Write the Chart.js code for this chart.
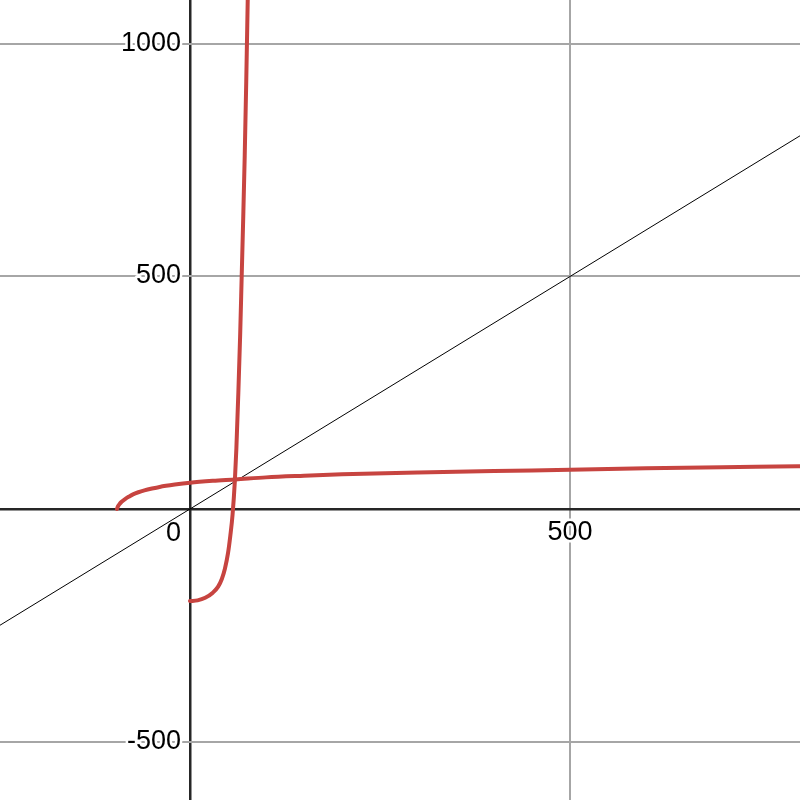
<!DOCTYPE html>
<html>
<head>
<meta charset="utf-8">
<script src="https://cdn.jsdelivr.net/npm/chart.js@4/dist/chart.umd.min.js"></script>
<style>
  body { margin: 0; background: #fff; }
  #caja { width: 800px; height: 800px; }
</style>
</head>
<body>
<div id="caja"><canvas id="grafico"></canvas></div>
<script>
// limites de los ejes y marcas
const xLimites = [-250, 802.6];
const yLimites = [-625.8, 1094.6];
const xMarcas = [0, 500];
const yMarcas = [-500, 0, 500, 1000];

// curva roja lenta (arranca en x = -96)
const curvaAX = [-96, -95, -93, -90, -85, -80, -75, -68, -60, -50, -40, -20, 0, 30, 60, 100, 150, 200, 300, 400, 500, 600, 700, 800, 810];
const curvaAY = [0, 5, 10, 15.5, 22, 27, 31.5, 36, 40, 44, 47.5, 52.5, 56.5, 60.5, 63.5, 68, 71.5, 74.5, 78.5, 81.5, 84.5, 87.5, 90, 92, 92.3];

// curva roja empinada (arranca en x = 0)
const curvaBX = [0, 10, 20, 30, 37, 42, 46, 50, 53, 56, 59, 61, 63.6, 66, 68, 70, 72, 74, 76];
const curvaBY = [-198, -196.5, -191, -180, -167, -150, -128, -95, -58, -12, 60, 130, 250, 375, 500, 625, 760, 920, 1100];

// recta y = x
const rectaX = [-250, 803];
const rectaY = [-250, 803];

const rojo = '#c74440';
const puntos = (xs, ys) => xs.map((v, i) => ({ x: v, y: ys[i] }));

// etiquetas de los ejes al estilo desmos
const etiquetas = {
  id: 'etiquetas',
  beforeDatasetsDraw(chart) {
    const { ctx, scales: { x, y } } = chart;
    const x0 = x.getPixelForValue(0);
    const y0 = y.getPixelForValue(0);
    ctx.save();
    ctx.font = '27px "Liberation Sans", Arial, sans-serif';
    ctx.lineWidth = 5;
    ctx.lineJoin = 'round';
    ctx.strokeStyle = '#fff';
    ctx.fillStyle = '#000';
    const escribir = (txt, px, py, align) => {
      ctx.textAlign = align;
      ctx.strokeText(txt, px, py);
      ctx.fillText(txt, px, py);
    };
    xMarcas.forEach(v => {
      if (v === 0) escribir('0', x0 - 9, y0 + 32, 'right');
      else escribir(String(v), x.getPixelForValue(v), y0 + 31, 'center');
    });
    yMarcas.forEach(v => {
      if (v !== 0) escribir(String(v), x0 - 9, y.getPixelForValue(v) + 7, 'right');
    });
    ctx.restore();
  }
};

const rejilla = {
  drawTicks: false,
  color: c => c.tick && c.tick.value === 0 ? '#262626' : '#a6a6a6',
  lineWidth: c => c.tick && c.tick.value === 0 ? 2.5 : 2
};

new Chart(document.getElementById('grafico'), {
  type: 'scatter',
  data: {
    datasets: [
      {
        data: puntos(curvaAX, curvaAY),
        showLine: true,
        borderColor: rojo,
        borderWidth: 4,
        borderCapStyle: 'round',
        cubicInterpolationMode: 'monotone',
        pointRadius: 0,
        order: 1
      },
      {
        data: puntos(curvaBX, curvaBY),
        showLine: true,
        borderColor: rojo,
        borderWidth: 4,
        borderCapStyle: 'round',
        cubicInterpolationMode: 'monotone',
        pointRadius: 0,
        order: 1
      },
      {
        data: puntos(rectaX, rectaY),
        showLine: true,
        borderColor: '#000',
        borderWidth: 1,
        pointRadius: 0,
        order: 2
      }
    ]
  },
  options: {
    responsive: true,
    maintainAspectRatio: false,
    animation: false,
    layout: { padding: 0 },
    plugins: { legend: { display: false }, tooltip: { enabled: false } },
    scales: {
      x: {
        type: 'linear',
        min: xLimites[0],
        max: xLimites[1],
        afterBuildTicks: eje => { eje.ticks = xMarcas.map(v => ({ value: v })); },
        ticks: { display: false },
        border: { display: false },
        grid: rejilla
      },
      y: {
        type: 'linear',
        min: yLimites[0],
        max: yLimites[1],
        afterBuildTicks: eje => { eje.ticks = yMarcas.map(v => ({ value: v })); },
        ticks: { display: false },
        border: { display: false },
        grid: rejilla
      }
    }
  },
  plugins: [etiquetas]
});
</script>
</body>
</html>
